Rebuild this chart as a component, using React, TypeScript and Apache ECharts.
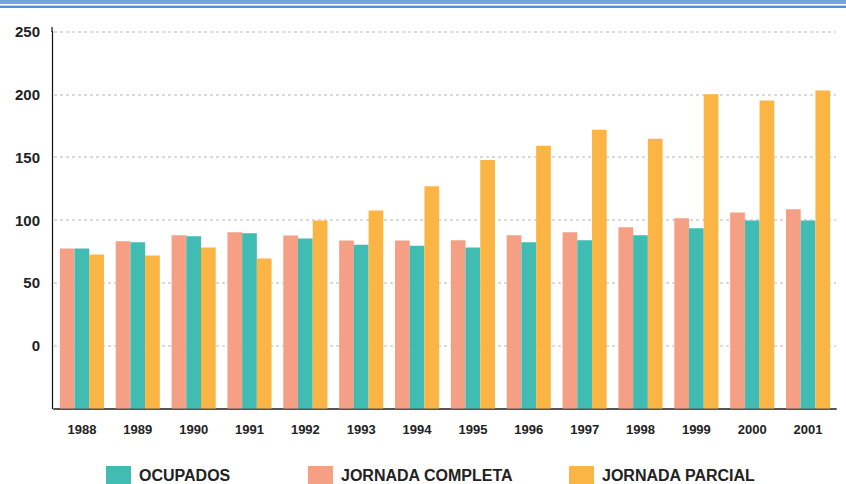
import React, { useEffect, useRef } from "react";
import * as echarts from "echarts";

const years = ["1988", "1989", "1990", "1991", "1992", "1993", "1994", "1995", "1996", "1997", "1998", "1999", "2000", "2001"];
const completa = [77.4, 83, 87.8, 90.2, 87.6, 83.6, 83.6, 83.8, 87.8, 90.2, 94.2, 101.3, 106, 108.5];
const ocupados = [77.4, 82.2, 87, 89.4, 85.2, 80.4, 79.6, 78.2, 82.2, 83.8, 87.8, 93.4, 99.7, 99.7];
const parcial = [72.6, 71.8, 78.2, 69.4, 99.6, 107.6, 126.8, 147.8, 159, 171.8, 164.6, 200, 195, 203];
const yTicks = [0, 50, 100, 150, 200, 250];

const NAME_OCU = "OCUPADOS";
const NAME_COM = "JORNADA COMPLETA";
const NAME_PAR = "JORNADA PARCIAL";

const FONT = "'Liberation Sans', Arial, Helvetica, sans-serif";

export default function App() {
  const ref = useRef<HTMLDivElement>(null);
  useEffect(() => {
    document.body.style.margin = "0";
    if (!ref.current) return;
    const chart = echarts.init(ref.current, null, { renderer: "svg" });
    const legendBase = {
      top: 466,
      padding: 0,
      orient: "horizontal",
      itemWidth: 25,
      itemHeight: 18,
      selectedMode: false,
      icon: "rect",
      textStyle: { fontFamily: FONT, fontSize: 16, fontWeight: "bold", color: "#222", padding: [2, 0, 0, 3] },
    };
    chart.setOption({
      animation: false,
      backgroundColor: "#fff",
      graphic: [
        { type: "rect", left: 0, top: 0, shape: { width: 846, height: 4 }, style: { fill: "#72A5D9" } },
        { type: "rect", left: 0, top: 5, shape: { width: 846, height: 1 }, style: { fill: "#B8D5EE" } },
        { type: "rect", left: 0, top: 6, shape: { width: 846, height: 2 }, style: { fill: "#4C93D3" } },
        { type: "line", shape: { x1: 52, y1: 27, x2: 52, y2: 32 }, style: { stroke: "#111", lineWidth: 1.2 } },
      ],
      legend: [
        { ...legendBase, left: 106, data: [NAME_OCU] },
        { ...legendBase, left: 308, data: [NAME_COM] },
        { ...legendBase, left: 569, data: [NAME_PAR] },
      ],
      grid: { left: 54, right: 10, top: 31.5, bottom: 75.5, containLabel: false },
      xAxis: {
        type: "category",
        data: years,
        axisLine: { show: true, onZero: false, lineStyle: { color: "#555", width: 2 } },
        axisTick: { show: false },
        axisLabel: { fontFamily: FONT, fontSize: 13, fontWeight: "bold", color: "#222", margin: 14 },
      },
      yAxis: {
        type: "value",
        min: -50,
        max: 250,
        interval: 50,
        startValue: -50,
        offset: 2,
        axisLine: { show: true, lineStyle: { color: "#111", width: 1.2 } },
        axisTick: { show: false },
        axisLabel: {
          fontFamily: FONT,
          fontSize: 15,
          fontWeight: "bold",
          color: "#222",
          margin: 12,
          formatter: (v: number) => (yTicks.indexOf(v) >= 0 ? String(v) : ""),
        },
        splitLine: { show: true, lineStyle: { color: "#cfcfcf", width: 1.5, type: [3, 3] } },
      },
      series: [
        { name: NAME_COM, type: "bar", data: completa, itemStyle: { color: "#F5A085" }, barGap: "0%", barCategoryGap: "21%" },
        { name: NAME_OCU, type: "bar", data: ocupados, itemStyle: { color: "#41BCB2" }, barGap: "0%", barCategoryGap: "21%" },
        { name: NAME_PAR, type: "bar", data: parcial, itemStyle: { color: "#FBB544" }, barGap: "0%", barCategoryGap: "21%" },
      ],
    });
    return () => chart.dispose();
  }, []);
  return <div ref={ref} style={{ width: 846, height: 484 }} />;
}
